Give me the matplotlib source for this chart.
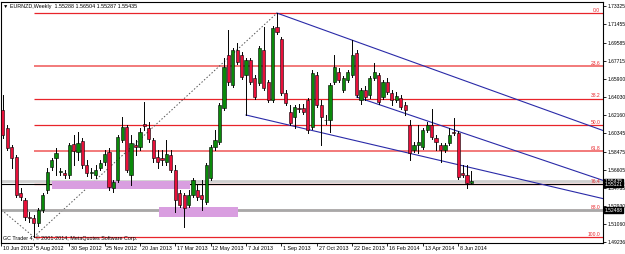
import pandas as pd
import matplotlib.pyplot as plt
from matplotlib.patches import Rectangle

plt.rcParams['font.family'] = ['Liberation Sans', 'DejaVu Sans']

# EURNZD weekly candles, first visible bar is the week of 17 Jun 2012
first_week = '2012-06-17'
opens = [1.6272, 1.6088, 1.5895, 1.5793, 1.5425, 1.5354, 1.5181, 1.5170, 1.5119, 1.5252,
         1.5456, 1.5691, 1.5782, 1.5640, 1.5629, 1.5609, 1.5925, 1.5844, 1.5956, 1.5711,
         1.5629, 1.5609, 1.5680, 1.5742, 1.5844, 1.5476, 1.5558, 1.5966, 1.6099, 1.5609,
         1.5915, 1.5895, 1.6129, 1.6088, 1.5966, 1.5793, 1.5782, 1.5742, 1.5813, 1.5660,
         1.5425, 1.5405, 1.5303, 1.5405, 1.5456, 1.5405, 1.5334, 1.5578, 1.5895, 1.5946,
         1.6292, 1.6833, 1.6527, 1.6884, 1.6833, 1.6629, 1.6782, 1.6598, 1.6547, 1.6884,
         1.6558, 1.6374, 1.7119, 1.6996, 1.6445, 1.6252, 1.6201, 1.6292, 1.6292, 1.6374,
         1.6099, 1.6629, 1.6323, 1.6170, 1.6170, 1.6558, 1.6660, 1.6476, 1.6578, 1.6629,
         1.6853, 1.6374, 1.6476, 1.6425, 1.6598, 1.6629, 1.6405, 1.6558, 1.6445, 1.6374,
         1.6394, 1.6323, 1.6119, 1.5864, 1.5915, 1.5895, 1.6068, 1.6119, 1.5986, 1.5915,
         1.5864, 1.5935, 1.6048, 1.6037, 1.5629, 1.5609, 1.55288]
highs = [1.6425, 1.6119, 1.5915, 1.5813, 1.5476, 1.5374, 1.5232, 1.5201, 1.5272, 1.5425,
         1.5680, 1.5782, 1.5884, 1.5680, 1.5660, 1.5935, 1.6017, 1.6048, 1.5986, 1.5762,
         1.5680, 1.5711, 1.5762, 1.5864, 1.5884, 1.5558, 1.6017, 1.6201, 1.6119, 1.6017,
         1.5966, 1.6088, 1.6354, 1.6150, 1.5986, 1.5864, 1.5864, 1.5966, 1.5864, 1.5711,
         1.5456, 1.5425, 1.5456, 1.5578, 1.5507, 1.5558, 1.5731, 1.5915, 1.6068, 1.6343,
         1.6802, 1.7088, 1.6904, 1.6955, 1.6864, 1.6802, 1.6802, 1.6629, 1.6925, 1.7119,
         1.6578, 1.7129, 1.7261, 1.7017, 1.6476, 1.6323, 1.6323, 1.6333, 1.6333, 1.6394,
         1.6680, 1.6660, 1.6374, 1.6221, 1.6547, 1.6833, 1.6700, 1.6619, 1.6680, 1.6986,
         1.6884, 1.6496, 1.6517, 1.6619, 1.6751, 1.6649, 1.6578, 1.6598, 1.6476, 1.6456,
         1.6425, 1.6354, 1.6170, 1.5946, 1.6119, 1.6088, 1.6150, 1.6282, 1.6017, 1.5935,
         1.5935, 1.6088, 1.6190, 1.6058, 1.5711, 1.5711, 1.56504]
lows = [1.5986, 1.5864, 1.5680, 1.5385, 1.5354, 1.5150, 1.5130, 1.4977, 1.5089, 1.5232,
        1.5425, 1.5660, 1.5609, 1.5609, 1.5578, 1.5578, 1.5711, 1.5762, 1.5680, 1.5599,
        1.5578, 1.5578, 1.5660, 1.5711, 1.5456, 1.5436, 1.5538, 1.5946, 1.5640, 1.5507,
        1.5813, 1.5864, 1.6068, 1.5946, 1.5742, 1.5680, 1.5711, 1.5711, 1.5640, 1.5232,
        1.5283, 1.5079, 1.5283, 1.5385, 1.5354, 1.5252, 1.5313, 1.5558, 1.5864, 1.5925,
        1.6272, 1.6527, 1.6507, 1.6741, 1.6588, 1.6221, 1.6537, 1.6384, 1.6527, 1.6476,
        1.6354, 1.6354, 1.7047, 1.6425, 1.6323, 1.6119, 1.6088, 1.6252, 1.6231, 1.6037,
        1.6078, 1.6303, 1.5915, 1.6129, 1.6048, 1.6537, 1.6558, 1.6456, 1.6558, 1.6609,
        1.6405, 1.6333, 1.6374, 1.6394, 1.6578, 1.6333, 1.6384, 1.6435, 1.6323, 1.6354,
        1.6282, 1.6221, 1.5762, 1.5844, 1.5833, 1.5874, 1.6048, 1.5976, 1.5864, 1.5742,
        1.5844, 1.5915, 1.6017, 1.5568, 1.5589, 1.5476, 1.55287]
closes = [1.6017, 1.5884, 1.5782, 1.5405, 1.5385, 1.5181, 1.5170, 1.5119, 1.5252, 1.5405,
          1.5640, 1.5762, 1.5833, 1.5650, 1.5609, 1.5915, 1.5854, 1.5935, 1.5711, 1.5629,
          1.5640, 1.5660, 1.5731, 1.5823, 1.5487, 1.5538, 1.5997, 1.6099, 1.5660, 1.5935,
          1.5895, 1.6048, 1.6109, 1.5976, 1.5782, 1.5742, 1.5762, 1.5823, 1.5660, 1.5354,
          1.5303, 1.5272, 1.5405, 1.5558, 1.5385, 1.5364, 1.5711, 1.5895, 1.5966, 1.6323,
          1.6711, 1.6558, 1.6884, 1.6762, 1.6609, 1.6782, 1.6558, 1.6405, 1.6904, 1.6496,
          1.6374, 1.7108, 1.7068, 1.6445, 1.6343, 1.6139, 1.6303, 1.6287, 1.6252, 1.6068,
          1.6649, 1.6323, 1.6201, 1.6165, 1.6527, 1.6711, 1.6578, 1.6598, 1.6660, 1.6833,
          1.6425, 1.6476, 1.6405, 1.6598, 1.6660, 1.6354, 1.6558, 1.6456, 1.6374, 1.6415,
          1.6303, 1.6272, 1.5833, 1.5915, 1.5946, 1.6068, 1.6119, 1.5997, 1.5946, 1.5864,
          1.5915, 1.6017, 1.6037, 1.5589, 1.5609, 1.5527, 1.55435]

xtick_labels = ['10 Jun 2012', '5 Aug 2012', '30 Sep 2012', '25 Nov 2012', '20 Jan 2013',
                '17 Mar 2013', '12 May 2013', '7 Jul 2013', '1 Sep 2013', '27 Oct 2013',
                '22 Dec 2013', '16 Feb 2014', '13 Apr 2014', '8 Jun 2014']
ytick_values = [1.73325, 1.71455, 1.69585, 1.67715, 1.65900, 1.64030, 1.62160, 1.60345,
                1.58475, 1.56605, 1.54735, 1.52930, 1.51060, 1.49236]

# fibonacci retracement anchors
fib_high = ('2013-08-25', 1.7261)
fib_low = ('2012-08-05', 1.4977)
fib_levels = [0.0, 23.6, 38.2, 50.0, 61.8, 76.4, 88.0, 100.0]

# channel rays (start date, price, second date, price)
channel_lines = [('2013-08-25', 1.7261, '2014-06-08', 1.6595),
                 ('2013-12-29', 1.6405, '2014-06-08', 1.6054),
                 ('2013-07-07', 1.6221, '2014-06-08', 1.5714)]
dotted_extra = ('2012-06-10', 1.5278, '2012-08-05', 1.4977)

# support zones (start, end, low, high)
zones = [('2012-09-02', '2013-04-09', 1.5466, 1.5548),
         ('2013-02-19', '2013-06-24', 1.5181, 1.5283)]

# horizontal lines
bid_price = 1.55435
hline_black = 1.55121
hline_gray = 1.52488

origin = pd.Timestamp('2012-06-10')


def idx(d):
    return (pd.Timestamp(d) - origin).days / 7


dates = pd.date_range(first_week, periods=len(opens), freq='7D')
x = ((dates - origin).days / 7).to_numpy()

fig = plt.figure(figsize=(6.25, 2.54), dpi=100)
ax = fig.add_axes([1 / 625, 11 / 254, 602 / 625, 241 / 254])
x_left, x_right = 0.57, 136.76
ax.set_xlim(x_left, x_right)
ax.set_ylim(1.4915, 1.7374)

fs = 3.9
fs_y = 3.6

# horizontal lines
ax.axhline(bid_price, color='#cfcfcf', lw=2.0, zorder=2.5)
ax.axhline(hline_black, color='black', lw=0.8, zorder=2.6)
ax.axhline(hline_gray, color='#a8a8a8', lw=2.0, zorder=2.5)

# zones
for z0, z1, lo, hi in zones:
    ax.add_patch(Rectangle((idx(z0), lo), idx(z1) - idx(z0), hi - lo,
                           facecolor='#d99ee0', edgecolor='none', zorder=2.7))

# fibonacci
fx0 = idx(fib_low[0])
rng = fib_high[1] - fib_low[1]
for lev in fib_levels:
    p = fib_high[1] - lev / 100 * rng
    light = lev in (23.6, 61.8)
    ax.plot([fx0, x_right], [p, p], color='#f27a7a' if light else '#e8242a',
            lw=1.4 if light else 0.9, zorder=2, solid_capstyle='butt')
    ax.text(x_right - 0.6, p + 0.0004, '%.1f' % lev, color='#e8242a', fontsize=fs_y,
            ha='right', va='bottom', zorder=6)
ax.plot([idx(fib_low[0]), idx(fib_high[0])], [fib_low[1], fib_high[1]],
        color='#555555', lw=0.7, ls=(0, (1.5, 2)), zorder=2)
ax.plot([idx(dotted_extra[0]), idx(dotted_extra[2])], [dotted_extra[1], dotted_extra[3]],
        color='#555555', lw=0.7, ls=(0, (1.5, 2)), zorder=2)

# channel rays
for d0, p0, d1, p1 in channel_lines:
    a0, a1 = idx(d0), idx(d1)
    slope = (p1 - p0) / (a1 - a0)
    ax.plot([a0, x_right], [p0, p0 + slope * (x_right - a0)], color='#2a2aa8', lw=0.8, zorder=3)

# candles
for xi, o, h, l, c in zip(x, opens, highs, lows, closes):
    ax.plot([xi, xi], [l, h], color='black', lw=0.7, zorder=4)
    col = '#0a8a0a' if c >= o else '#e8103a'
    bottom = min(o, c)
    height = max(abs(c - o), 0.0004)
    ax.add_patch(Rectangle((xi - 0.36, bottom), 0.72, height, facecolor=col,
                           edgecolor='black', lw=0.4, zorder=5))

# axes styling
for s in ax.spines.values():
    s.set_color('black')
    s.set_linewidth(0.8)
ax.yaxis.tick_right()
ax.set_yticks(ytick_values)
ax.set_yticklabels(['%.5f' % v for v in ytick_values], fontsize=fs_y)
ax.tick_params(axis='y', length=2, width=0.6, pad=1.0)

xt = [max(idx(pd.to_datetime(t, format='%d %b %Y')), x_left) for t in xtick_labels]
ax.set_xticks(xt)
ax.set_xticklabels([''] * len(xt))
ax.tick_params(axis='x', length=2, width=0.6)
for pos, lab in zip(xt, xtick_labels):
    ax.text(pos + 0.4, -0.014, lab, transform=ax.get_xaxis_transform(), fontsize=fs,
            ha='left', va='top', clip_on=False)

# price labels with black background on the axis
for p in [bid_price, hline_black, hline_gray]:
    ax.annotate('%.5f' % p, xy=(1.0, p), xycoords=('axes fraction', 'data'),
                xytext=(1.0, 0), textcoords='offset points', fontsize=fs_y, color='white',
                va='center', ha='left', annotation_clip=False, zorder=10,
                bbox=dict(boxstyle='square,pad=0.08', fc='black', ec='black'))

ax.text(0.004, 0.99, '\u25BC EURNZD,Weekly  1.55288 1.56504 1.55287 1.55435',
        transform=ax.transAxes, fontsize=fs, ha='left', va='top', zorder=10)
ax.text(0.004, 0.008, 'GC Trader 4, \u00a9 2001-2014, MetaQuotes Software Corp.',
        transform=ax.transAxes, fontsize=fs, ha='left', va='bottom', zorder=10)

fig.savefig('out.png', dpi=100, facecolor='white')
